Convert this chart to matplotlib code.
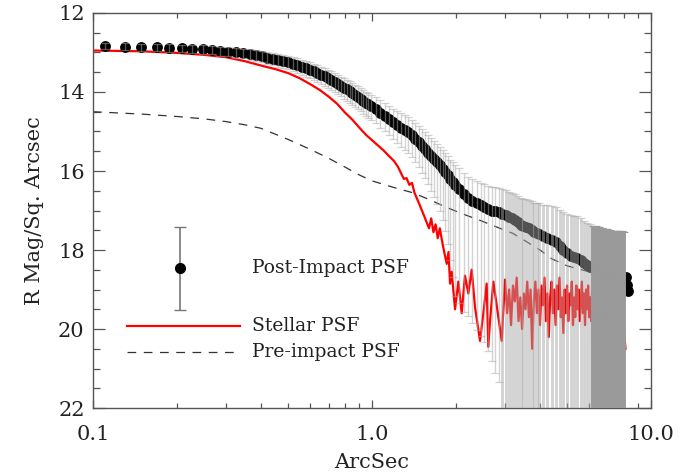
import numpy as np
import matplotlib
matplotlib.use("Agg")
import matplotlib.pyplot as plt
from matplotlib.lines import Line2D

# ---------------- data ----------------
# Post-impact PSF profile (radius in arcsec, surface brightness in R mag / sq arcsec)
post_x = [0.110, 0.130, 0.149, 0.169, 0.188, 0.208, 0.227, 0.247, 0.266, 0.286,
          0.305, 0.325, 0.344, 0.364, 0.383, 0.403, 0.422, 0.442, 0.461, 0.481,
          0.500, 0.520, 0.539, 0.559, 0.578, 0.598, 0.617, 0.637, 0.656, 0.676,
          0.695, 0.715, 0.734, 0.754, 0.773, 0.793, 0.812, 0.832, 0.851, 0.871,
          0.890, 0.910, 0.929, 0.949, 0.968, 0.988,
          1.03, 1.07, 1.11, 1.15, 1.19, 1.23, 1.27, 1.31, 1.35, 1.39,
          1.43, 1.47, 1.51, 1.55, 1.59, 1.63, 1.67, 1.71, 1.75, 1.79,
          1.83, 1.87, 1.91, 1.95, 1.99,
          2.05, 2.13, 2.21, 2.29, 2.37, 2.45, 2.53, 2.61, 2.69, 2.77,
          2.85, 2.93, 3.01, 3.09, 3.17, 3.25, 3.33, 3.41, 3.49, 3.57,
          3.65, 3.73, 3.81, 3.89, 3.97,
          4.10, 4.25, 4.40, 4.55, 4.70, 4.85, 5.00, 5.15, 5.30, 5.45,
          5.60, 5.75, 5.90, 6.05, 6.20, 6.35, 6.50, 6.65, 6.80, 6.95,
          7.10, 7.25, 7.40, 7.55, 7.70, 7.85, 8.00, 8.15, 8.22, 8.28]
post_mag = [12.83, 12.85, 12.86, 12.87, 12.88, 12.89, 12.90, 12.92, 12.94, 12.96,
            12.98, 13.00, 13.02, 13.05, 13.07, 13.10, 13.13, 13.16, 13.19, 13.22,
            13.25, 13.28, 13.32, 13.36, 13.40, 13.44, 13.48, 13.52, 13.56, 13.60,
            13.65, 13.70, 13.74, 13.79, 13.84, 13.89, 13.93, 13.98, 14.03, 14.08,
            14.12, 14.17, 14.22, 14.27, 14.31, 14.36,
            14.43, 14.52, 14.60, 14.68, 14.76, 14.83, 14.90, 14.96, 15.02, 15.09,
            15.18, 15.27, 15.36, 15.45, 15.54, 15.62, 15.70, 15.78, 15.86, 15.95,
            16.03, 16.11, 16.20, 16.28, 16.36,
            16.45, 16.58, 16.68, 16.76, 16.82, 16.87, 16.92, 16.96, 17.00, 17.02,
            17.05, 17.08, 17.12, 17.16, 17.20, 17.24, 17.30, 17.36, 17.40, 17.42,
            17.45, 17.50, 17.55, 17.58, 17.60,
            17.65, 17.70, 17.74, 17.80, 17.90, 18.00, 18.08, 18.14, 18.18, 18.20,
            18.25, 18.32, 18.38, 18.42, 18.46, 18.50, 18.55, 18.58, 18.62, 18.66,
            18.70, 18.73, 18.76, 18.78, 18.80, 18.82, 18.84, 18.68, 18.88, 19.05]
# error toward brighter magnitudes (upward on the plot)
post_err_up = [0.08, 0.08, 0.08, 0.09, 0.09, 0.09, 0.10, 0.10, 0.10, 0.11,
               0.11, 0.12, 0.12, 0.13, 0.13, 0.14, 0.14, 0.15, 0.15, 0.16,
               0.16, 0.17, 0.17, 0.18, 0.18, 0.19, 0.19, 0.20, 0.20, 0.21,
               0.21, 0.22, 0.22, 0.23, 0.23, 0.24, 0.24, 0.25, 0.25, 0.26,
               0.26, 0.27, 0.27, 0.28, 0.28, 0.29,
               0.30, 0.31, 0.32, 0.33, 0.34, 0.35, 0.36, 0.37, 0.38, 0.39,
               0.40, 0.41, 0.42, 0.43, 0.44, 0.45, 0.46, 0.47, 0.47, 0.48,
               0.48, 0.49, 0.49, 0.50, 0.50,
               0.52, 0.53, 0.54, 0.55, 0.56, 0.57, 0.58, 0.59, 0.60, 0.61,
               0.62, 0.62, 0.63, 0.64, 0.65, 0.66, 0.67, 0.68, 0.69, 0.70,
               0.72, 0.73, 0.75, 0.76, 0.78,
               0.80, 0.83, 0.86, 0.89, 0.92, 0.95, 0.99, 1.02, 1.05, 1.05,
               1.06, 1.06, 1.07, 1.07, 1.08, 1.10, 1.12, 1.14, 1.16, 1.18,
               1.20, 1.22, 1.24, 1.26, 1.28, 1.30, 1.30, 0.0, 0.0, 0.0]
# error toward fainter magnitudes (downward on the plot); 6 = runs off the plot
post_err_lo = [0.09, 0.09, 0.09, 0.10, 0.10, 0.10, 0.11, 0.11, 0.11, 0.12,
               0.12, 0.13, 0.13, 0.14, 0.14, 0.15, 0.16, 0.16, 0.17, 0.18,
               0.18, 0.19, 0.19, 0.20, 0.21, 0.21, 0.22, 0.23, 0.23, 0.24,
               0.25, 0.25, 0.26, 0.27, 0.27, 0.28, 0.29, 0.29, 0.30, 0.31,
               0.31, 0.32, 0.33, 0.33, 0.34, 0.35,
               0.36, 0.38, 0.40, 0.42, 0.44, 0.46, 0.48, 0.50, 0.53, 0.56,
               0.60, 0.64, 0.68, 0.73, 0.80, 0.88, 0.96, 1.05, 1.15, 1.30,
               1.50, 1.75, 2.05, 2.40, 2.80,
               2.9, 3.0, 3.0, 3.1, 3.2, 3.3, 3.4, 3.6, 3.8, 4.1,
               4.3, 6.0, 6.0, 6.0, 6.0, 6.0, 6.0, 6.0, 6.0, 6.0,
               6.0, 6.0, 6.0, 6.0, 6.0,
               6.0, 6.0, 6.0, 6.0, 6.0, 6.0, 6.0, 6.0, 6.0, 6.0,
               6.0, 6.0, 6.0, 6.0, 6.0, 6.0, 6.0, 6.0, 6.0, 6.0,
               6.0, 6.0, 6.0, 6.0, 6.0, 6.0, 6.0, 0.0, 0.0, 0.0]

# Stellar PSF
star_x = [0.10, 0.15, 0.20, 0.25, 0.30, 0.35, 0.40, 0.45, 0.50, 0.55,
          0.60, 0.65, 0.70, 0.75, 0.80, 0.85, 0.90, 0.95, 1.00, 1.05,
          1.10, 1.15, 1.20, 1.24, 1.27, 1.30, 1.33, 1.36, 1.39, 1.42,
          1.45, 1.48, 1.51, 1.54, 1.57, 1.60, 1.63, 1.66, 1.69, 1.72,
          1.75, 1.78, 1.82, 1.853, 1.88, 1.904, 1.93, 1.984, 2.039, 2.096,
          2.154, 2.214, 2.276, 2.34, 2.438, 2.506, 2.576, 2.61, 2.648, 2.722,
          2.836, 2.916, 2.997, 3.05, 3.10, 3.15, 3.20, 3.25, 3.30, 3.35,
          3.40, 3.45, 3.50, 3.55, 3.60, 3.65, 3.70, 3.75, 3.80, 3.85,
          3.90, 3.95, 4.00, 4.05, 4.10, 4.15, 4.20, 4.25, 4.30, 4.35,
          4.40, 4.45, 4.50, 4.55, 4.60, 4.65, 4.70, 4.75, 4.80, 4.85,
          4.90, 4.95, 5.00, 5.05, 5.10, 5.15, 5.20, 5.25, 5.30, 5.35,
          5.40, 5.45, 5.50, 5.55, 5.60, 5.65, 5.70, 5.75, 5.80, 5.85,
          5.90, 5.95, 6.00, 6.05, 6.10, 6.15, 6.20, 6.30, 6.50, 6.70,
          6.90, 7.10, 7.30, 7.50, 7.70, 7.90, 8.10]
star_mag = [12.95, 12.97, 13.01, 13.06, 13.12, 13.22, 13.33, 13.42, 13.52, 13.65,
            13.80, 13.95, 14.12, 14.30, 14.52, 14.70, 14.90, 15.08, 15.22, 15.35,
            15.48, 15.62, 15.75, 15.90, 16.05, 16.20, 16.18, 16.35, 16.30, 16.55,
            16.70, 16.85, 17.00, 17.15, 17.30, 17.45, 17.20, 17.55, 17.35, 17.70,
            17.45, 17.75, 18.10, 18.35, 18.05, 18.85, 18.55, 19.50, 18.80, 19.60,
            18.65, 19.10, 18.50, 19.45, 20.30, 19.60, 18.85, 20.45, 19.80, 18.80,
            19.70, 20.30, 18.75, 19.60, 19.00, 19.90, 18.90, 19.30, 18.70, 19.80,
            19.20, 20.00, 19.10, 19.50, 18.80, 19.70, 19.00, 20.50, 19.30, 18.80,
            19.60, 19.00, 19.90, 18.90, 19.40, 18.70, 19.80, 19.10, 20.20, 19.20,
            18.80, 19.60, 19.00, 19.90, 18.90, 19.50, 18.70, 19.70, 19.20, 20.10,
            19.00, 19.60, 18.90, 19.80, 19.10, 19.40, 18.80, 19.90, 19.20, 19.70,
            18.90, 19.50, 19.00, 19.80, 19.30, 18.80, 19.60, 19.10, 19.90, 19.00,
            19.50, 18.90, 19.70, 19.20, 19.80, 19.00, 20.50, 19.30, 19.80, 19.10,
            19.90, 19.20, 19.70, 19.40, 20.00, 19.60, 20.50]

# Pre-impact PSF
pre_x = [0.10, 0.15, 0.20, 0.25, 0.30, 0.35, 0.40, 0.50, 0.60, 0.70,
         0.80, 0.90, 1.00, 1.20, 1.40, 1.60, 1.85, 2.10, 2.44, 2.80,
         3.20, 3.60, 4.00, 4.40, 5.00, 5.50, 6.00]
pre_mag = [14.50, 14.56, 14.62, 14.68, 14.75, 14.83, 14.92, 15.20, 15.45, 15.68,
           15.90, 16.10, 16.25, 16.42, 16.55, 16.72, 16.92, 17.08, 17.25, 17.42,
           17.58, 17.80, 18.00, 18.22, 18.40, 18.48, 18.55]

legend_labels = ["Post-Impact PSF", "Stellar PSF", "Pre-impact PSF"]
x_ticks = [0.1, 1.0, 10.0]
x_ticklabels = ["0.1", "1.0", "10.0"]
y_ticks = [12, 14, 16, 18, 20, 22]

# ---------------- plot ----------------
plt.rcParams["font.family"] = ["DejaVu Serif"]
fig = plt.figure(figsize=(6.92, 4.74), dpi=100)
ax = fig.add_axes([0.1344, 0.1392, 0.8064, 0.8334])

px = np.array(post_x)
pm = np.array(post_mag)
eu = np.array(post_err_up)
el = np.array(post_err_lo)

ax.plot(star_x, star_mag, color="#ff0000", lw=1.6, zorder=2)
pre_line, = ax.plot(pre_x, pre_mag, color="#333333", lw=0.9, zorder=2)
pre_line.set_dashes((7, 6))
ax.plot(px, pm, "o", color="black", ms=7.8, mew=0, zorder=3)

has_err = eu > 0
thin = has_err & (px < 2.9)
light = has_err & (px >= 2.9) & (px < 6.2)
dark = has_err & (px >= 6.2)
ax.errorbar(px[thin], pm[thin], yerr=[eu[thin], el[thin]], fmt="none",
            ecolor="#a8a8a8", alpha=0.5, elinewidth=1.0, capsize=3, capthick=0.9,
            zorder=4)
ax.errorbar(px[light], pm[light], yerr=[eu[light], el[light]], fmt="none",
            ecolor="#a8a8a8", alpha=0.5, elinewidth=2.1, capsize=3, capthick=0.9,
            zorder=4)
ax.errorbar(px[dark], pm[dark], yerr=[eu[dark], el[dark]], fmt="none",
            ecolor="#9a9a9a", alpha=1.0, elinewidth=2.8, capsize=3, capthick=0.9,
            zorder=5)

ax.set_xscale("log")
ax.set_xlim(0.1, 10.0)
ax.set_ylim(22, 12)
ax.set_xticks(x_ticks)
ax.set_xticklabels(x_ticklabels)
ax.set_yticks(y_ticks)
ax.yaxis.set_minor_locator(matplotlib.ticker.MultipleLocator(0.5))
ax.xaxis.set_minor_formatter(matplotlib.ticker.NullFormatter())

for s in ax.spines.values():
    s.set_color("#555555")
    s.set_linewidth(1.0)
ax.tick_params(which="both", direction="in", top=True, right=True,
               colors="#555555", labelcolor="#222222", labelsize=15)
ax.tick_params(axis="y", which="major", length=8.5, width=0.9, pad=6)
ax.tick_params(axis="y", which="minor", length=5, width=0.9)
ax.tick_params(axis="x", which="major", length=6, width=0.9, pad=12)
ax.tick_params(axis="x", which="minor", length=3.5, width=0.9)

ax.set_xlabel("ArcSec", fontsize=15, color="#222222", labelpad=7)
ax.set_ylabel("R Mag/Sq. Arcsec", fontsize=15, color="#222222", labelpad=10)

# key (drawn in axes coordinates)
T = ax.transAxes
ax.errorbar([0.156], [0.354], yerr=[[0.105], [0.105]], fmt="o", color="black",
            ms=7, ecolor="#777777", elinewidth=1.2, capsize=4, capthick=1.0,
            transform=T, zorder=6, clip_on=False)
ax.add_line(Line2D([0.061, 0.263], [0.2076, 0.2076], color="#ff0000", lw=1.6,
                   transform=T))
kl = Line2D([0.061, 0.258], [0.1418, 0.1418], color="#333333", lw=0.9, transform=T)
kl.set_dashes((7, 6))
ax.add_line(kl)
for lab, yy in zip(legend_labels, [0.354, 0.2076, 0.1418]):
    ax.text(0.285, yy, lab, transform=T, fontsize=13.5, va="center", ha="left",
            color="#222222")

fig.savefig("out.png", dpi=100)
